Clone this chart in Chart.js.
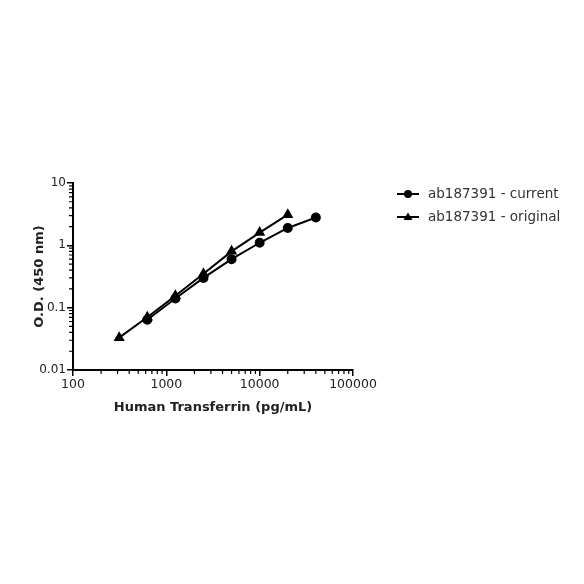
<!DOCTYPE html>
<html>
<head>
<meta charset="utf-8">
<script src="https://cdn.jsdelivr.net/npm/chart.js@4"></script>
<style>
  html, body { margin: 0; padding: 0; background: #fff; }
  #wrap { width: 584px; height: 584px; }
</style>
</head>
<body>
<div id="wrap"><canvas id="odChart" width="584" height="584"></canvas></div>
<script>
  const concCurrent = [625, 1250, 2500, 5000, 10000, 20000, 40000];
  const odCurrent = [0.064, 0.14, 0.30, 0.60, 1.10, 1.90, 2.80];
  const concOriginal = [312.5, 625, 1250, 2500, 5000, 10000, 20000];
  const odOriginal = [0.033, 0.070, 0.155, 0.35, 0.80, 1.60, 3.10];
  const seriesNames = ['ab187391 - current', 'ab187391 - original'];
  const xTicks = [100, 1000, 10000, 100000];
  const yTicks = [0.01, 0.1, 1, 10];

  const FONT = "'DejaVu Sans', sans-serif";

  // minor log ticks (2..9 in each decade)
  function minorTicks(min, max) {
    const out = [];
    for (let d = min; d < max; d *= 10) {
      for (let k = 2; k <= 9; k++) out.push(d * k);
    }
    return out;
  }

  const extras = {
    id: 'extras',
    afterDraw(chart) {
      const c = chart.ctx;
      const xs = chart.scales.x, ys = chart.scales.y;
      const area = chart.chartArea;
      c.save();
      c.strokeStyle = '#000';
      c.lineWidth = 1.2;
      c.beginPath();
      minorTicks(100, 100000).forEach(v => {
        const px = xs.getPixelForValue(v);
        c.moveTo(px, area.bottom);
        c.lineTo(px, area.bottom + 4);
      });
      minorTicks(0.01, 10).forEach(v => {
        const py = ys.getPixelForValue(v);
        c.moveTo(area.left, py);
        c.lineTo(area.left - 4, py);
      });
      c.stroke();

      // legend
      const lx = 397, rows = [194, 217];
      chart.data.datasets.forEach((ds, i) => {
        const y = rows[i];
        c.strokeStyle = '#000';
        c.lineWidth = 2;
        c.beginPath();
        c.moveTo(lx, y);
        c.lineTo(lx + 22, y);
        c.stroke();
        c.fillStyle = '#000';
        c.beginPath();
        if (ds.pointStyle === 'triangle') {
          c.moveTo(lx + 11, y - 4.5);
          c.lineTo(lx + 15.5, y + 3);
          c.lineTo(lx + 6.5, y + 3);
          c.closePath();
        } else {
          c.arc(lx + 11, y, 4, 0, Math.PI * 2);
        }
        c.fill();
        c.fillStyle = '#333';
        c.font = '13.5px ' + FONT;
        c.textBaseline = 'middle';
        c.fillText(ds.label, 428, y);
      });
      c.restore();
    }
  };

  new Chart(document.getElementById('odChart'), {
    type: 'line',
    data: {
      datasets: [{
        label: seriesNames[0],
        data: concCurrent.map((x, i) => ({ x: x, y: odCurrent[i] })),
        borderColor: '#000',
        backgroundColor: '#000',
        borderWidth: 2,
        pointStyle: 'circle',
        pointRadius: 4,
        tension: 0
      }, {
        label: seriesNames[1],
        data: concOriginal.map((x, i) => ({ x: x, y: odOriginal[i] })),
        borderColor: '#000',
        backgroundColor: '#000',
        borderWidth: 2,
        pointStyle: 'triangle',
        pointRadius: 4.5,
        tension: 0
      }]
    },
    options: {
      responsive: false,
      animation: false,
      layout: { padding: { left: 0, top: 183, right: 231, bottom: 0 } },
      plugins: { legend: { display: false }, tooltip: { enabled: false } },
      scales: {
        x: {
          type: 'logarithmic',
          min: 100,
          max: 100000,
          afterBuildTicks: s => { s.ticks = xTicks.map(v => ({ value: v })); },
          afterFit: s => { s.height = 214; },
          border: { display: true, color: '#000', width: 2 },
          grid: { display: true, drawOnChartArea: false, drawTicks: true, tickLength: 6, color: '#000', lineWidth: 1.5 },
          ticks: {
            color: '#222',
            font: { family: FONT, size: 12.5 },
            padding: 1,
            maxRotation: 0,
            autoSkip: false,
            callback: v => String(v)
          },
          title: {
            display: true,
            text: 'Human Transferrin (pg/mL)',
            color: '#222',
            font: { family: FONT, size: 13, weight: 'bold' },
            padding: { top: 0, bottom: 169 }
          }
        },
        y: {
          type: 'logarithmic',
          min: 0.01,
          max: 10,
          afterBuildTicks: s => { s.ticks = yTicks.map(v => ({ value: v })); },
          afterFit: s => { s.width = 73; },
          border: { display: true, color: '#000', width: 2 },
          grid: { display: true, drawOnChartArea: false, drawTicks: true, tickLength: 6, color: '#000', lineWidth: 1.5 },
          ticks: {
            color: '#222',
            font: { family: FONT, size: 12 },
            padding: 1,
            autoSkip: false,
            callback: v => String(v)
          },
          title: {
            display: true,
            text: 'O.D. (450 nm)',
            color: '#222',
            font: { family: FONT, size: 13, weight: 'bold' },
            padding: { top: 32, bottom: 0 }
          }
        }
      }
    },
    plugins: [extras]
  });
</script>
</body>
</html>
